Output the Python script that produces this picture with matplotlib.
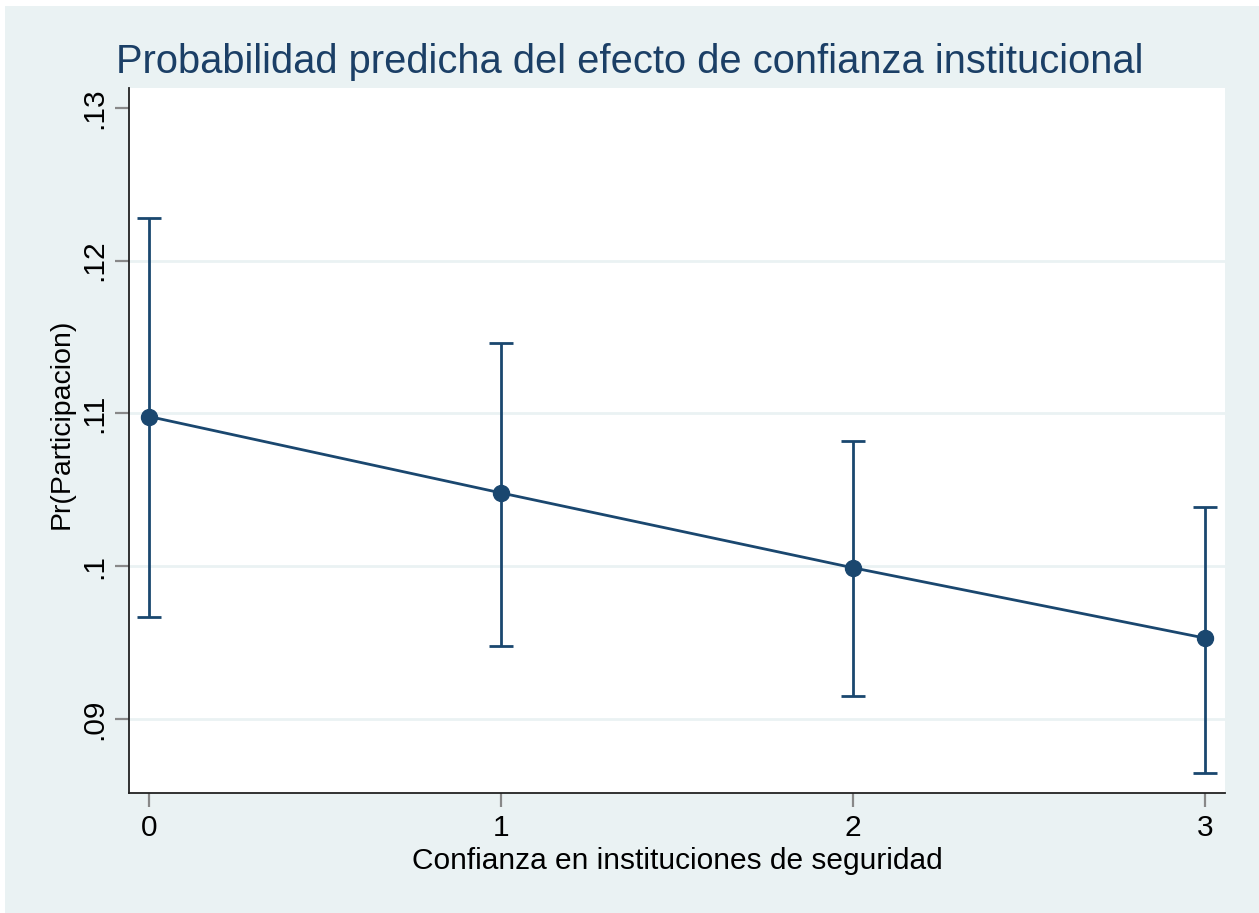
"""
Predicted probability plot (Stata s2color look) with 95% CI bars
"""

import numpy as np
import matplotlib.pyplot as plt
from matplotlib.patches import Rectangle

plt.rcParams['font.family'] = ['Liberation Sans', 'DejaVu Sans']

# %% Data
confianza = [0, 1, 2, 3]
prob = [0.1098, 0.1048, 0.0999, 0.0953]
ci_low = [0.0967, 0.0948, 0.0915, 0.0865]
ci_high = [0.1228, 0.1146, 0.1082, 0.1039]
yticks = [0.09, 0.10, 0.11, 0.12, 0.13]
ytick_labels = ['.09', '.1', '.11', '.12', '.13']

navy = '#1A476F'
bg = '#EAF2F3'

# %% Plot
fig = plt.figure(figsize=(12.59, 9.13), dpi=100, facecolor='white')
fig.patches.append(Rectangle((5 / 1259, 0), 1, 1 - 6 / 913, transform=fig.transFigure,
                             facecolor=bg, edgecolor='none', zorder=-10))

ax = fig.add_axes([129 / 1259, 1 - 793 / 913, (1225 - 129) / 1259, (793 - 88) / 913])
ax.set_facecolor('white')

y = np.array(prob)
yerr = [y - np.array(ci_low), np.array(ci_high) - y]
ax.errorbar(confianza, prob, yerr=yerr, fmt='none', ecolor=navy, elinewidth=2.0,
            capsize=8.5, capthick=2.0, zorder=3)
ax.plot(confianza, prob, color=navy, lw=2.0, marker='o', ms=11.5, zorder=4)

ax.set_xlim(-0.057, 3.057)
ax.set_ylim(0.08516, 0.1313)
ax.set_xticks(confianza)
ax.set_yticks(yticks)
ax.set_yticklabels(ytick_labels, rotation=90, va='center')

for t in yticks[:-1]:
    ax.axhline(t, color=bg, lw=2, zorder=1)

for s in ['top', 'right']:
    ax.spines[s].set_visible(False)
for s in ['left', 'bottom']:
    ax.spines[s].set_color('#222222')
    ax.spines[s].set_linewidth(1.3)

ax.tick_params(axis='both', length=10, width=1.6, color='#888888', labelsize=21.5,
               labelcolor='black', pad=5)

ax.set_xlabel('Confianza en instituciones de seguridad', fontsize=21.5, labelpad=4)
fig.text(62 / 1259, 1 - 424 / 913, 'Pr(Participacion)', rotation=90, fontsize=20.5,
         ha='center', va='center')

fig.text(0.5, 1 - 62 / 913, 'Probabilidad predicha del efecto de confianza institucional',
         fontsize=28.7, color='#1B3F66', ha='center', va='center')

plt.savefig('out.png', dpi=100, facecolor=fig.get_facecolor())
